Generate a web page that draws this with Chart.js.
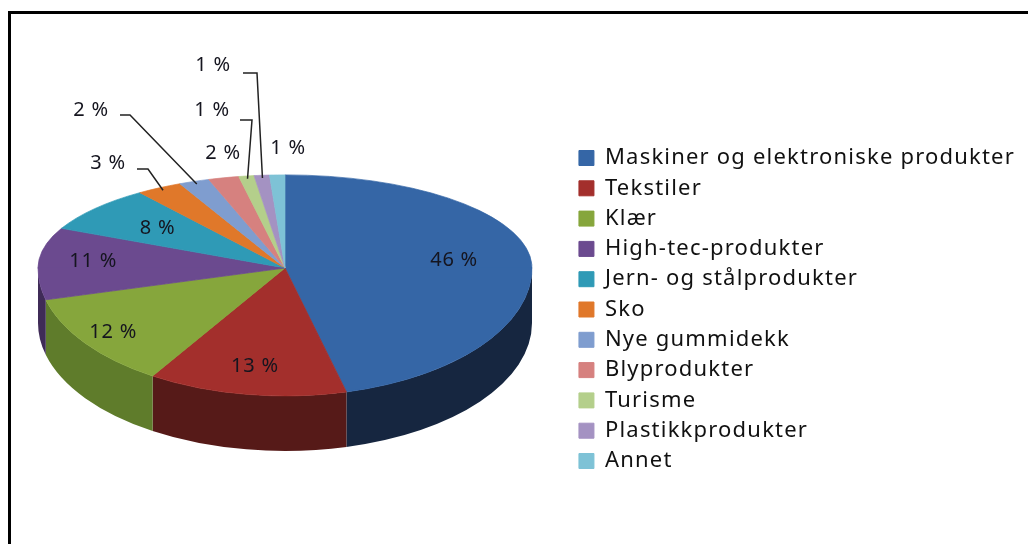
<!DOCTYPE html>
<html>
<head>
<meta charset="utf-8">
<script src="https://cdn.jsdelivr.net/npm/chart.js@4.4.0/dist/chart.umd.min.js"></script>
<style>
  html, body { margin: 0; padding: 0; background: #fff; overflow: hidden; }
  #wrap { position: absolute; left: 0; top: 0; height: 619px; }
  #frame { position: absolute; left: 8px; top: 11px; width: 1200px; height: 700px;
           border-left: 3px solid #000; border-top: 3px solid #000; pointer-events: none; }
</style>
</head>
<body>
<div id="wrap"><canvas id="pieChart"></canvas></div>
<div id="frame"></div>
<script>
const categories = ['Maskiner og elektroniske produkter', 'Tekstiler', 'Klær', 'High-tec-produkter',
  'Jern- og stålprodukter', 'Sko', 'Nye gummidekk', 'Blyprodukter', 'Turisme', 'Plastikkprodukter', 'Annet'];
const shares = [46, 13, 12, 11, 8, 3, 2, 2, 1, 1, 1];
const topColors = ['#3566a6', '#a32f2c', '#86a63c', '#6b4a8f', '#2f9ab6', '#e0782a',
  '#7f9dcf', '#d6817f', '#b4cf8b', '#a492c2', '#7ec2d6'];
const sideColors = ['#162640', '#561a18', '#5f7c2b', '#3f2b57', '#1d5f70', '#8a4818',
  '#4d6183', '#844e4d', '#6e7f55', '#645976', '#4c7784'];

// where the slices meet, and how flat the back / front halves look
const VX = 285, VY = 268;
const K_BACK = 0.377, K_FRONT = 0.518, DEPTH = 55;
const SPACING = '1.2px';

// label placement: inside labels use a radius factor, the small ones sit outside with leader lines
const labelPlan = [
  {f: 0.69}, {f: 0.78}, {f: 0.86}, {f: 0.78}, {f: 0.67},
  {at: [-177, -105], line: [[-148, -99], [-137, -99]]},
  {at: [-194, -158], line: [[-165, -153], [-155, -153]]},
  {at: [-62, -115]},
  {at: [-73, -158], line: [[-45, -148], [-33, -148]]},
  {at: [-72, -203], line: [[-42, -195], [-28, -195]]},
  {at: [3, -120]}
];

function onTop(arc, ang, f) {
  const r = arc.outerRadius * f;
  const s = Math.sin(ang);
  return {x: VX + r * Math.cos(ang), y: VY + r * s * (s < 0 ? K_BACK : K_FRONT)};
}

const spacedText = {
  id: 'spacedText',
  beforeLayout(chart) { chart.ctx.letterSpacing = SPACING; },
  beforeDraw(chart) { chart.ctx.letterSpacing = SPACING; }
};

const pie3d = {
  id: 'pie3d',
  beforeDatasetsDraw(chart) {
    const ctx = chart.ctx;
    const arcs = chart.getDatasetMeta(0).data;
    // front wall
    arcs.forEach((arc, i) => {
      const s = Math.max(arc.startAngle, 0), e = Math.min(arc.endAngle, Math.PI);
      if (e <= s) return;
      const R = arc.outerRadius, ry = R * K_FRONT;
      ctx.beginPath();
      ctx.ellipse(VX, VY, R, ry, 0, s, e);
      ctx.ellipse(VX, VY + DEPTH, R, ry, 0, e, s, true);
      ctx.closePath();
      ctx.fillStyle = sideColors[i];
      ctx.fill();
    });
    // back half of the top face, drawn by the library
    const a = arcs[0];
    ctx.save();
    ctx.beginPath();
    ctx.rect(0, 0, chart.width, VY + 0.5);
    ctx.clip();
    ctx.translate(VX, VY);
    ctx.scale(1, K_BACK);
    ctx.translate(-a.x, -a.y);
  },
  afterDatasetsDraw(chart) {
    const ctx = chart.ctx;
    ctx.restore();
    const arcs = chart.getDatasetMeta(0).data;
    const a = arcs[0];
    // front half of the top face
    ctx.save();
    ctx.beginPath();
    ctx.rect(0, VY - 0.5, chart.width, chart.height);
    ctx.clip();
    ctx.translate(VX, VY);
    ctx.scale(1, K_FRONT);
    ctx.translate(-a.x, -a.y);
    arcs.forEach(arc => arc.draw(ctx));
    ctx.restore();

    // percentage labels
    ctx.save();
    ctx.font = '20px "Noto Sans"';
    ctx.letterSpacing = '0.8px';
    ctx.textAlign = 'center';
    ctx.textBaseline = 'middle';
    ctx.fillStyle = '#15151f';
    ctx.strokeStyle = '#222';
    ctx.lineWidth = 1.5;
    arcs.forEach((arc, i) => {
      const plan = labelPlan[i];
      const mid = (arc.startAngle + arc.endAngle) / 2;
      let p;
      if (plan.f) {
        p = onTop(arc, mid, plan.f);
      } else {
        p = {x: VX + plan.at[0], y: VY + plan.at[1]};
        if (plan.line) {
          const end = onTop(arc, mid, 0.97);
          ctx.beginPath();
          ctx.moveTo(VX + plan.line[0][0], VY + plan.line[0][1]);
          ctx.lineTo(VX + plan.line[1][0], VY + plan.line[1][1]);
          ctx.lineTo(end.x, end.y);
          ctx.stroke();
        }
      }
      ctx.fillText(shares[i] + ' %', p.x, p.y);
    });
    ctx.restore();
  }
};

// size the canvas so the legend starts right of the pie
const probe = document.createElement('canvas').getContext('2d');
probe.font = '22px "Noto Sans"';
probe.letterSpacing = SPACING;
const longest = Math.max(...categories.map(c => probe.measureText(c).width));
document.getElementById('wrap').style.width = Math.ceil(570 + 44.3 + longest) + 'px';

new Chart(document.getElementById('pieChart'), {
  type: 'pie',
  data: {
    labels: categories,
    datasets: [{
      data: shares,
      backgroundColor: topColors,
      borderColor: topColors,
      borderWidth: 1,
      radius: 247,
      clip: false
    }]
  },
  options: {
    responsive: true,
    maintainAspectRatio: false,
    animation: false,
    events: [],
    layout: {padding: 0},
    plugins: {
      legend: {
        position: 'right',
        labels: {
          font: {family: 'Noto Sans', size: 22},
          color: '#111',
          boxWidth: 15,
          boxHeight: 15,
          padding: 8.3
        }
      },
      tooltip: {enabled: false}
    }
  },
  plugins: [spacedText, pie3d]
});
</script>
</body>
</html>
